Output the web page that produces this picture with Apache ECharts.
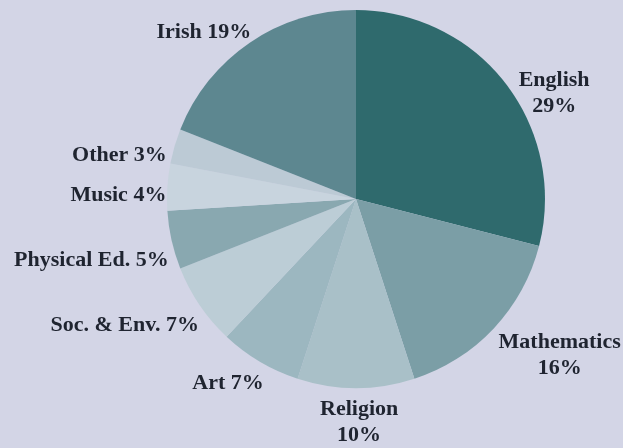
<!DOCTYPE html>
<html>
<head>
<meta charset="utf-8">
<script src="https://cdn.jsdelivr.net/npm/echarts@6/dist/echarts.min.js"></script>
<style>
  html, body { margin: 0; padding: 0; background: #d3d5e6; }
  #chart { width: 623px; height: 448px; }
</style>
</head>
<body>
<div id="chart"></div>
<script>
// Share of teaching time by subject
const subjects = ['English', 'Mathematics', 'Religion', 'Art', 'Soc. & Env.', 'Physical Ed.', 'Music', 'Other', 'Irish'];
const shares = [29, 16, 10, 7, 7, 5, 4, 3, 19];
const sliceColors = ['#2f6a6d', '#7b9ea6', '#a9c0c8', '#9cb7c0', '#bccdd6', '#89a8b0', '#c8d4de', '#bccad5', '#5d8790'];
// Subjects whose label wraps the percentage onto its own line
const twoLineLabels = ['English', 'Mathematics', 'Religion'];
// Extra nudge applied to each label after the default outside placement
const labelNudge = [[2, 15], [-6, 21], [-41, 26], [13, 15], [11, 16], [10, 18], [12, 9], [5, 11], [11, -4]];

const chart = echarts.init(document.getElementById('chart'));
chart.setOption({
  backgroundColor: '#d3d5e6',
  animation: false,
  series: [{
    type: 'pie',
    center: [356, 199],
    radius: 189,
    startAngle: 90,
    clockwise: true,
    avoidLabelOverlap: false,
    data: subjects.map((s, i) => ({
      name: s,
      value: shares[i],
      itemStyle: { color: sliceColors[i] }
    })),
    itemStyle: { borderWidth: 0 },
    label: {
      show: true,
      position: 'outside',
      fontFamily: 'Liberation Serif',
      fontWeight: 'bold',
      fontSize: 22,
      lineHeight: 26,
      color: '#1f2430',
      formatter: p => twoLineLabels.includes(p.name)
        ? p.name + '\n' + p.value + '%'
        : p.name + ' ' + p.value + '%'
    },
    labelLine: { show: false, length: 8, length2: 0 },
    labelLayout: p => {
      const r = p.labelRect;
      const n = labelNudge[p.dataIndex];
      return {
        x: r.x + r.width / 2 + n[0],
        y: r.y + r.height / 2 + n[1],
        align: 'center',
        verticalAlign: 'middle'
      };
    }
  }]
});
</script>
</body>
</html>
